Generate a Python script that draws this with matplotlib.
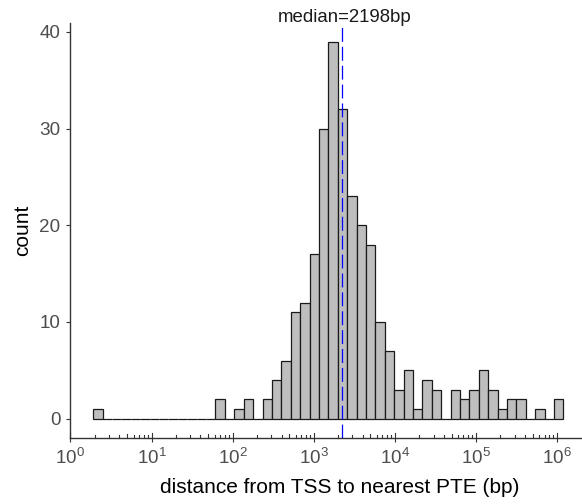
import matplotlib
matplotlib.use("Agg")
import matplotlib.pyplot as plt
import numpy as np

plt.rcParams['font.family'] = ['Liberation Sans', 'DejaVu Sans']
plt.rcParams['mathtext.fontset'] = 'custom'
plt.rcParams['mathtext.rm'] = 'Liberation Sans'
plt.rcParams['mathtext.default'] = 'regular'
plt.rcParams['lines.scale_dashes'] = False

# histogram of log10(distance), 50 equal bins in log space
bin_lo_log10 = 0.281
bin_hi_log10 = 6.077
counts = [1, 0, 0, 0, 0, 0, 0, 0, 0, 0,
          0, 0, 0, 2, 0, 1, 2, 0, 2, 4,
          6, 11, 12, 17, 30, 39, 32, 23, 20, 18,
          10, 7, 3, 5, 1, 4, 3, 0, 3, 2,
          3, 5, 3, 1, 2, 2, 0, 1, 0, 2]
median_bp = 2198
y_ticks = [0, 10, 20, 30, 40]

edges = np.logspace(bin_lo_log10, bin_hi_log10, len(counts) + 1)

W, H = 582, 504
top_px, bot_px = 22.7, 437.5
fig = plt.figure(figsize=(W / 100, H / 100), dpi=100)
ax = fig.add_axes([70 / W, (H - bot_px) / H, 512 / W, (bot_px - top_px) / H])

ax.bar(edges[:-1], counts, width=np.diff(edges), align='edge',
       color='#bebebe', edgecolor='#1a1a1a', linewidth=0.9, zorder=2)
ax.axvline(median_bp, color='#0000ff', linewidth=0.9, dashes=(10, 3.6), zorder=3)
ax.annotate(f"median={median_bp}bp", xy=(median_bp, 1),
            xycoords=('data', 'axes fraction'), xytext=(2, 0.2),
            textcoords='offset points', ha='center', va='baseline',
            fontsize=13.4, color='#1a1a1a', annotation_clip=False)

ax.set_xscale('log')
ax.set_xlim(10 ** -0.006, 10 ** 6.307)
ax.set_ylim(-1.95, 40.95)
ax.set_yticks(y_ticks)
ax.set_xticks([10 ** k for k in range(7)])
ax.xaxis.set_minor_locator(matplotlib.ticker.NullLocator())

# log ticks drawn inside the panel along the bottom
ax_h = bot_px - top_px
tr = ax.get_xaxis_transform()
for k in range(7):
    for m in range(1, 10):
        x = m * 10 ** k
        if x > 10 ** 6.3:
            continue
        h = 4.5 if m == 1 else (4.0 if m == 5 else 2.7)
        ax.plot([x, x], [0, h / ax_h], transform=tr, color='#333333',
                linewidth=0.8, clip_on=False, zorder=4)

for side in ['top', 'right']:
    ax.spines[side].set_visible(False)
for side in ['left', 'bottom']:
    ax.spines[side].set_color('#333333')
    ax.spines[side].set_linewidth(1.0)

ax.tick_params(axis='both', colors='#333333', width=0.8, length=3,
               labelsize=13.6, labelcolor='#4d4d4d')
ax.tick_params(axis='y', pad=4)
ax.tick_params(axis='x', pad=4.3)

ax.set_ylabel('count', fontsize=15, color='black', labelpad=5)
fig.text(340 / W, 11 / H, 'distance from TSS to nearest PTE (bp)',
         ha='center', va='baseline', fontsize=15, color='black')

fig.savefig('out.png', dpi=100)
